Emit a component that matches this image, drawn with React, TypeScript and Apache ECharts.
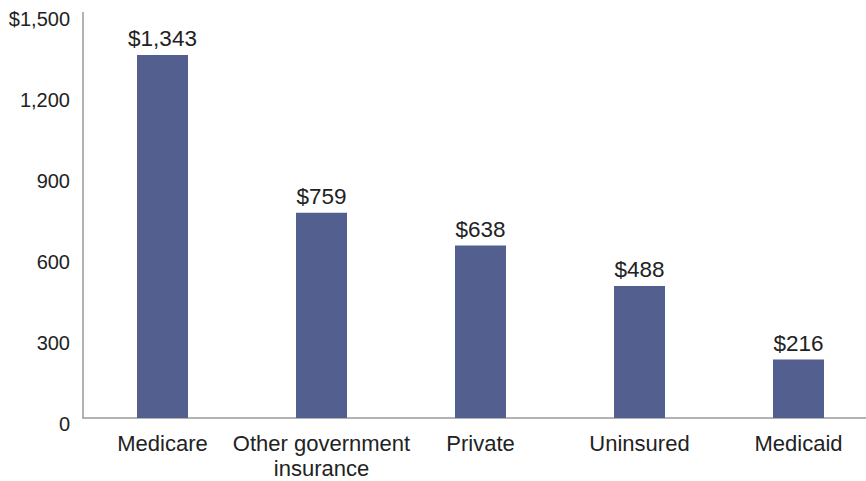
import React, { useEffect, useRef } from "react";
import * as echarts from "echarts";

const categories = ["Medicare", "Other government\ninsurance", "Private", "Uninsured", "Medicaid"];
const values = [1343, 759, 638, 488, 216];
const yTicks = { min: 0, max: 1500, interval: 300 };

const fmt = (v: number) => v.toLocaleString("en-US");

export default function App() {
  const ref = useRef<HTMLDivElement>(null);
  useEffect(() => {
    if (!ref.current) return;
    const chart = echarts.init(ref.current, null, { renderer: "svg" });
    const font = "'Liberation Sans', Arial, Helvetica, sans-serif";
    chart.setOption({
      animation: false,
      backgroundColor: "#ffffff",
      grid: { left: 83, top: 12.5, bottom: 63, right: 0, containLabel: false },
      xAxis: {
        type: "category",
        data: categories,
        axisTick: { show: false },
        axisLine: { show: true, lineStyle: { color: "#9a9a9a", width: 1.5 } },
        axisLabel: {
          color: "#222222",
          fontSize: 22,
          fontFamily: font,
          margin: 13,
          lineHeight: 25,
          interval: 0,
        },
      },
      yAxis: {
        type: "value",
        min: yTicks.min,
        max: yTicks.max,
        interval: yTicks.interval,
        axisLine: { show: true, lineStyle: { color: "#9a9a9a", width: 1.5 } },
        axisTick: { show: false },
        splitLine: { show: false },
        axisLabel: {
          color: "#222222",
          fontSize: 20,
          fontFamily: font,
          margin: 13,
          verticalAlign: "top",
          lineHeight: 12,
          formatter: (v: number) => (v === yTicks.max ? "$" + fmt(v) : fmt(v)),
        },
      },
      series: [
        {
          type: "bar",
          data: values,
          barWidth: 51,
          itemStyle: { color: "#525f8f" },
          label: {
            show: true,
            position: "top",
            distance: 5,
            color: "#222222",
            fontSize: 22.5,
            fontFamily: font,
            formatter: (p: any) => "$" + fmt(p.value),
          },
        },
      ],
    });
    return () => chart.dispose();
  }, []);
  return (
    <div style={{ position: "fixed", left: 0, top: 0, width: 866, height: 481, overflow: "hidden", background: "#fff" }}>
      <div ref={ref} style={{ width: 878, height: 481 }} />
    </div>
  );
}
